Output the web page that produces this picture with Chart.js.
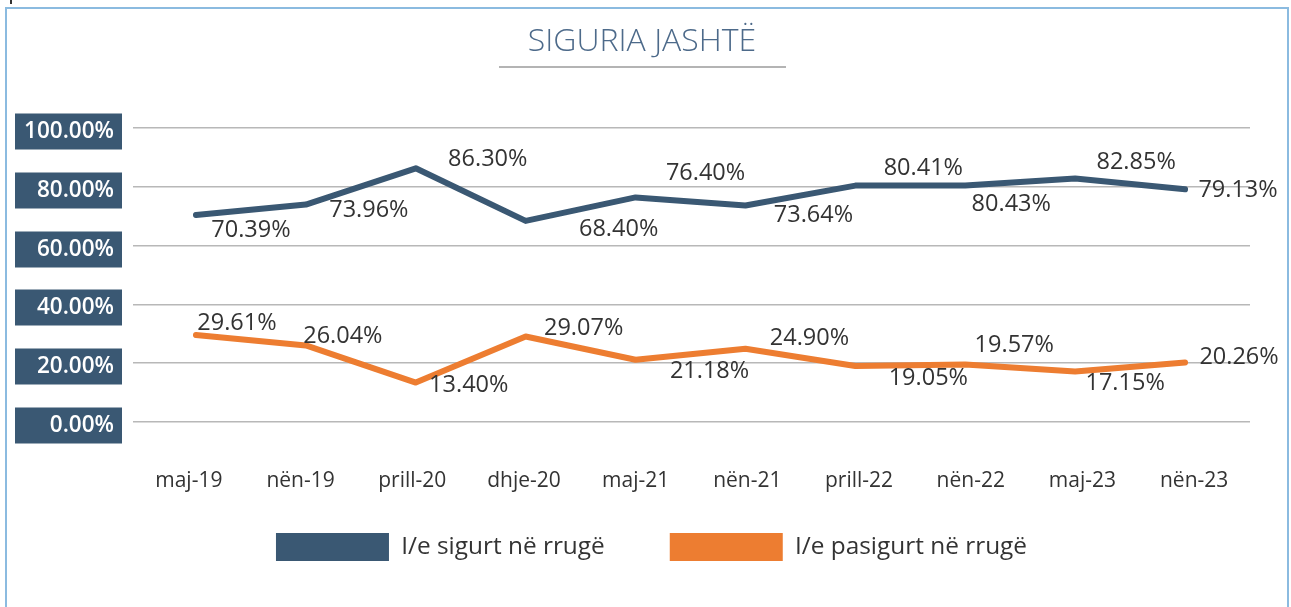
<!DOCTYPE html>
<html><head><meta charset="utf-8">
<script src="https://cdn.jsdelivr.net/npm/chart.js@4/dist/chart.umd.min.js"></script>
<style>html,body{margin:0;padding:0;background:#fff;}#wrap{width:1291px;height:607px;}</style>
</head><body><div id="wrap"><canvas id="c" width="1291" height="607"></canvas></div>
<script>
const categories = ['maj-19','nën-19','prill-20','dhje-20','maj-21','nën-21','prill-22','nën-22','maj-23','nën-23'];
const safeValues = [70.39,73.96,86.30,68.40,76.40,73.64,80.41,80.43,82.85,79.13];
const unsafeValues = [29.61,26.04,13.40,29.07,21.18,24.90,19.05,19.57,17.15,20.26];
const yTicks = [0,20,40,60,80,100];
const seriesNames = ['I/e sigurt në rrugë','I/e pasigurt në rrugë'];
const chartTitle = 'SIGURIA JASHTË';

// label placement offsets (styling only, pixels relative to the point)
const safeLabelOffsets = [[55,14],[63,5],[72,-10],[93,7],[70,-25],[68,9],[68,-18],[46,18],[61,-17],[53,0]];
const unsafeLabelOffsets = [[41,-13],[37,-10],[53,2],[58,-9],[74,11],[64,-11],[73,11],[49,-20],[50,11],[54,-6]];

const BLUE = '#3a5873', ORANGE = '#ed7d31', FONT = "'Open Sans', sans-serif";
const fmt = v => v.toFixed(2) + '%';
const toPoints = arr => arr.map((v, i) => ({ x: i, y: v }));

const decor = {
  id: 'decor',
  beforeDraw(chart) {
    const ctx = chart.ctx;
    ctx.save();
    ctx.fillStyle = '#fff';
    ctx.fillRect(0, 0, chart.width, chart.height);
    ctx.strokeStyle = '#8bbbe0';
    ctx.lineWidth = 2;
    ctx.strokeRect(6, 8, 1282, 700);
    ctx.fillStyle = '#333';
    ctx.fillRect(10, 0, 2, 4);
    // title + underline
    ctx.fillStyle = '#4d6a8a';
    ctx.font = '300 32px ' + FONT;
    ctx.textAlign = 'center';
    ctx.textBaseline = 'middle';
    ctx.fillText(chartTitle, 642, 42);
    ctx.strokeStyle = '#b4b4b4';
    ctx.lineWidth = 2;
    ctx.beginPath(); ctx.moveTo(499, 67); ctx.lineTo(786, 67); ctx.stroke();
    ctx.restore();
  },
  afterDraw(chart) {},
  afterDatasetsDraw(chart) {
    const ctx = chart.ctx, y = chart.scales.y;
    ctx.save();
    // y tick label boxes
    yTicks.forEach(t => {
      const py = Math.round(y.getPixelForValue(t)) + 0.5;
      ctx.fillStyle = BLUE;
      ctx.fillRect(15, py - 15, 107, 36);
      ctx.fillStyle = '#fff';
      ctx.font = '600 22.5px ' + FONT;
      ctx.textAlign = 'right';
      ctx.textBaseline = 'middle';
      ctx.fillText(fmt(t), 114, py + 3);
    });
    // data labels
    ctx.font = '23.5px ' + FONT;
    ctx.fillStyle = '#333';
    ctx.textAlign = 'center';
    ctx.textBaseline = 'middle';
    const offs = [safeLabelOffsets, unsafeLabelOffsets];
    const vals = [safeValues, unsafeValues];
    chart.data.datasets.forEach((ds, di) => {
      chart.getDatasetMeta(di).data.forEach((pt, i) => {
        const o = offs[di][i];
        ctx.fillText(fmt(vals[di][i]), pt.x + o[0], pt.y + o[1] + 1);
      });
    });
    ctx.restore();
  }
};

new Chart(document.getElementById('c'), {
  type: 'line',
  data: {
    labels: categories,
    datasets: [
      { label: seriesNames[0], data: toPoints(safeValues), xAxisID: 'xp', borderColor: BLUE, backgroundColor: BLUE, borderWidth: 6, pointRadius: 0, tension: 0, borderCapStyle: 'round', borderJoinStyle: 'round' },
      { label: seriesNames[1], data: toPoints(unsafeValues), xAxisID: 'xp', borderColor: ORANGE, backgroundColor: ORANGE, borderWidth: 6, pointRadius: 0, tension: 0, borderCapStyle: 'round', borderJoinStyle: 'round' }
    ]
  },
  options: {
    responsive: false,
    animation: false,
    devicePixelRatio: 1,
    layout: { padding: { left: 12, right: 0, top: 128, bottom: 36 } },
    scales: {
      x: {
        type: 'category',
        offset: true,
        grid: { display: false, drawTicks: false },
        border: { display: false },
        ticks: { color: '#333', font: { family: FONT, size: 21 }, padding: 46, maxRotation: 0 },
        afterFit(s) { s.height = 46; s._computeLabelArea = () => undefined; }
      },
      xp: {
        type: 'linear',
        display: false,
        min: -0.573, max: 9.591
      },
      y: {
        position: 'left', min: 0, max: 100,
        grid: { display: true, drawTicks: false, color: '#b8b8b8', lineWidth: 1.5 },
        border: { display: false },
        ticks: { display: false, stepSize: 20 },
        afterFit(s) { s.width = 121; }
      },
      yr: {
        position: 'right', min: 0, max: 100,
        grid: { display: false, drawTicks: false },
        border: { display: false },
        ticks: { display: false },
        afterFit(s) { s.width = 41; }
      }
    },
    plugins: {
      title: { display: false },
      legend: {
        position: 'bottom',
        labels: {
          boxWidth: 113, boxHeight: 28, padding: 65, color: '#333', font: { family: FONT, size: 24.4 },
          generateLabels(chart) {
            return Chart.defaults.plugins.legend.labels.generateLabels(chart).map(l => Object.assign(l, { lineWidth: 0 }));
          }
        }
      },
      tooltip: { enabled: false }
    }
  },
  plugins: [decor]
});
</script></body></html>
